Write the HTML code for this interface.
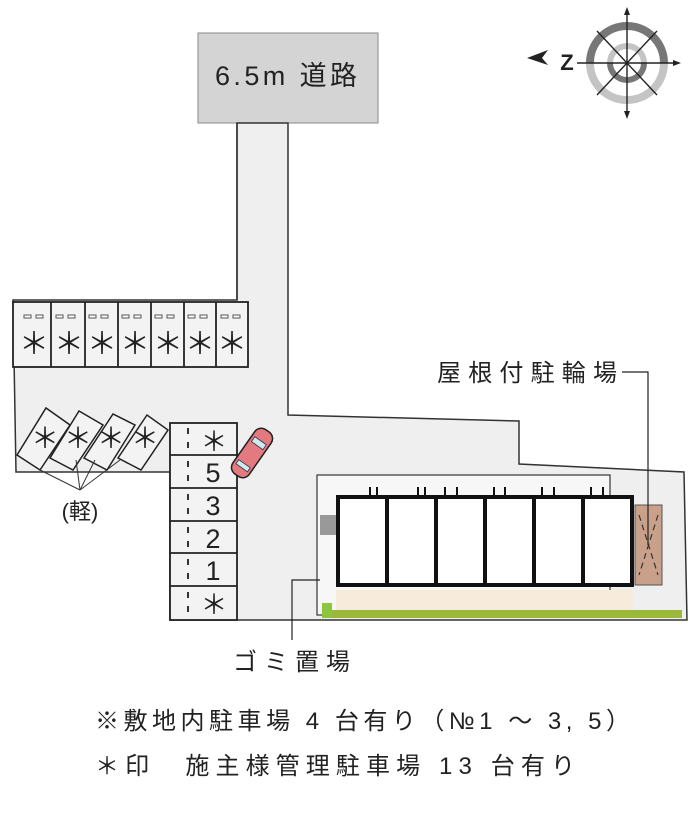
<!DOCTYPE html>
<html><head><meta charset="utf-8"><style>
html,body{margin:0;padding:0;background:#fff;}
svg{display:block;font-family:"Liberation Sans","Noto Sans CJK JP",sans-serif;}
.a{font-family:"Noto Sans CJK JP",sans-serif;}
</style></head><body>
<svg width="700" height="823" viewBox="0 0 700 823" xmlns="http://www.w3.org/2000/svg">
<!-- road -->
<rect x="198" y="33" width="180" height="90" fill="#d4d4d4" stroke="#888" stroke-width="1"/>
<text x="215" y="85" font-size="27" textLength="142" fill="#222">6.5m 道路</text>
<!-- lot -->
<polygon points="237,123 288,123 288,415 519,421 519,464 684,472 687,620 170,620 170,472 16,472 13,300 237,300" fill="#efefef" stroke="#333" stroke-width="1.5"/>
<line x1="237" y1="123" x2="237" y2="300" stroke="#333" stroke-width="1.5"/>
<!-- top parking row -->
<g stroke="#222" stroke-width="1.8" fill="#f3f3f3">
<rect x="13" y="302" width="235" height="65"/>
<line x1="51" y1="302" x2="51" y2="367"/><line x1="85" y1="302" x2="85" y2="367"/>
<line x1="118" y1="302" x2="118" y2="367"/><line x1="151" y1="302" x2="151" y2="367"/>
<line x1="184" y1="302" x2="184" y2="367"/><line x1="216" y1="302" x2="216" y2="367"/>
</g>
<g class="a" font-size="30" text-anchor="middle" fill="#222">
<text x="34" y="354">＊</text><text x="69" y="354">＊</text><text x="102" y="354">＊</text><text x="135" y="354">＊</text><text x="168" y="354">＊</text><text x="200" y="354">＊</text><text x="232" y="354">＊</text>
</g>
<g fill="#fff" stroke="#555" stroke-width="1">
<rect x="24" y="315" width="7" height="3"/><rect x="36" y="315" width="7" height="3"/>
<rect x="56" y="315" width="7" height="3"/><rect x="68" y="315" width="7" height="3"/>
<rect x="89" y="315" width="7" height="3"/><rect x="101" y="315" width="7" height="3"/>
<rect x="122" y="315" width="7" height="3"/><rect x="134" y="315" width="7" height="3"/>
<rect x="155" y="315" width="7" height="3"/><rect x="167" y="315" width="7" height="3"/>
<rect x="188" y="315" width="7" height="3"/><rect x="200" y="315" width="7" height="3"/>
<rect x="221" y="315" width="7" height="3"/><rect x="233" y="315" width="7" height="3"/>
</g>
<!-- angled kei spots -->
<g stroke="#222" stroke-width="1.5" fill="#f3f3f3">
<polygon points="17,455 46,408 70,425 40,470"/>
<polygon points="50,458 79,411 103,425 73,470"/>
<polygon points="84,458 113,414 135,425 107,470"/>
<polygon points="118,458 147,415 168,430 141,470"/>
</g>
<g class="a" font-size="28" text-anchor="middle" fill="#222">
<text x="45" y="448">＊</text><text x="78" y="448">＊</text><text x="111" y="448">＊</text><text x="145" y="448">＊</text>
</g>
<g stroke="#333" stroke-width="1" fill="none">
<line x1="40" y1="470" x2="80" y2="490"/><line x1="76" y1="460" x2="80" y2="490"/>
<line x1="95" y1="460" x2="80" y2="490"/><line x1="120" y1="460" x2="80" y2="490"/>
</g>
<text x="80" y="519" font-size="22" text-anchor="middle" fill="#222">(軽)</text>
<!-- right strip -->
<g stroke="#222" stroke-width="1.8" fill="#f3f3f3">
<rect x="170" y="423" width="67" height="197"/>
<line x1="170" y1="455" x2="237" y2="455"/><line x1="170" y1="488" x2="237" y2="488"/>
<line x1="170" y1="521" x2="237" y2="521"/><line x1="170" y1="553" x2="237" y2="553"/>
<line x1="170" y1="586" x2="237" y2="586"/>
</g>
<g stroke="#333" stroke-width="2">
<line x1="188" y1="428" x2="188" y2="434"/><line x1="188" y1="442" x2="188" y2="448"/>
<line x1="188" y1="461" x2="188" y2="467"/><line x1="188" y1="475" x2="188" y2="481"/>
<line x1="188" y1="494" x2="188" y2="500"/><line x1="188" y1="508" x2="188" y2="514"/>
<line x1="188" y1="527" x2="188" y2="533"/><line x1="188" y1="541" x2="188" y2="547"/>
<line x1="188" y1="559" x2="188" y2="565"/><line x1="188" y1="573" x2="188" y2="579"/>
<line x1="188" y1="592" x2="188" y2="598"/><line x1="188" y1="606" x2="188" y2="612"/>
</g>
<g font-size="27" text-anchor="middle" fill="#222">
<text class="a" x="214" y="451">＊</text><text x="213" y="482">5</text><text x="213" y="515">3</text>
<text x="213" y="548">2</text><text x="213" y="580">1</text><text class="a" x="214" y="614">＊</text>
</g>
<!-- car -->
<g transform="translate(252,453) rotate(35)">
<rect x="-10" y="-27" width="20" height="54" rx="8" fill="#e27a80" stroke="#222" stroke-width="1.5"/>
<rect x="-7" y="-15" width="14" height="6" fill="#cfe8f5" stroke="#333" stroke-width="0.8"/>
<rect x="-7" y="13" width="14" height="5" fill="#cfe8f5" stroke="#333" stroke-width="0.8"/>
</g>
<!-- building area -->
<rect x="317" y="475" width="293" height="140" fill="#f7f7f7" stroke="#333" stroke-width="1.2"/>
<rect x="320" y="515" width="16" height="20" fill="#999"/>
<rect x="336" y="590" width="297" height="20" fill="#f7ebdc"/>
<rect x="322" y="610" width="360" height="8" fill="#9ab83a"/>
<rect x="322" y="603" width="10" height="15" fill="#8cc63f"/>
<g fill="#fff" stroke="#111" stroke-width="4">
<rect x="338" y="497" width="49" height="88"/><rect x="387" y="497" width="49" height="88"/>
<rect x="436" y="497" width="49" height="88"/><rect x="485" y="497" width="49" height="88"/>
<rect x="534" y="497" width="49" height="88"/><rect x="583" y="497" width="49" height="88"/>
</g>
<g stroke="#111" stroke-width="2" fill="none">
<path d="M370 495 v-8 M377 495 v-8 M418 495 v-8 M425 495 v-8 M445 495 v-8 M457 495 v-8 M494 495 v-8 M505 495 v-8 M542 495 v-8 M554 495 v-8 M591 495 v-8 M603 495 v-8"/>
</g>
<!-- bike parking -->
<rect x="635" y="505" width="27" height="80" fill="#c9a08a" stroke="#555" stroke-width="1"/>
<g stroke="#333" stroke-width="1.2" stroke-dasharray="6,4">
<line x1="639" y1="515" x2="658" y2="575"/><line x1="658" y1="515" x2="639" y2="575"/>
</g>
<polyline points="622,372 648,372 648,545" fill="none" stroke="#222" stroke-width="1.2"/>
<text x="437" y="381" font-size="24" textLength="180" fill="#222">屋根付駐輪場</text>
<!-- gomi -->
<polyline points="320,580 292,580 292,640" fill="none" stroke="#222" stroke-width="1.2"/>
<text x="233" y="670" font-size="24" textLength="117" fill="#222">ゴミ置場</text>
<!-- compass -->
<g transform="translate(627,63)">
<path d="M-37,0 A37,37 0 0 1 37,0" fill="none" stroke="#777" stroke-width="8"/>
<path d="M37,0 A37,37 0 0 1 -37,0" fill="none" stroke="#c4c4c4" stroke-width="8"/>
<path d="M-17,0 A17,17 0 0 1 17,0" fill="none" stroke="#c4c4c4" stroke-width="6"/>
<path d="M17,0 A17,17 0 0 1 -17,0" fill="none" stroke="#777" stroke-width="6"/>
<g stroke="#222" stroke-width="1.4">
<line x1="0" y1="-52" x2="0" y2="52"/><line x1="-50" y1="0" x2="50" y2="0"/>
<line x1="-30" y1="-32" x2="30" y2="32"/><line x1="30" y1="-32" x2="-30" y2="32"/>
</g>
<polygon points="0,-56 -3,-48 3,-48" fill="#222"/><polygon points="0,56 -3,48 3,48" fill="#222"/>
<polygon points="54,0 46,-3 46,3" fill="#222"/>
</g>
<polygon points="527,58 548,50 542,58 548,65" fill="#222"/>
<text x="567" y="70" font-size="22" font-weight="bold" text-anchor="middle" fill="#222">Z</text>
<!-- bottom notes -->
<text x="95" y="729" font-size="24" textLength="535" fill="#222">※敷地内駐車場 4 台有り（№1 ～ 3, 5）</text>
<text x="95" y="774" font-size="24" textLength="480" fill="#222">＊印　施主様管理駐車場 13 台有り</text>
</svg>
</body></html>
